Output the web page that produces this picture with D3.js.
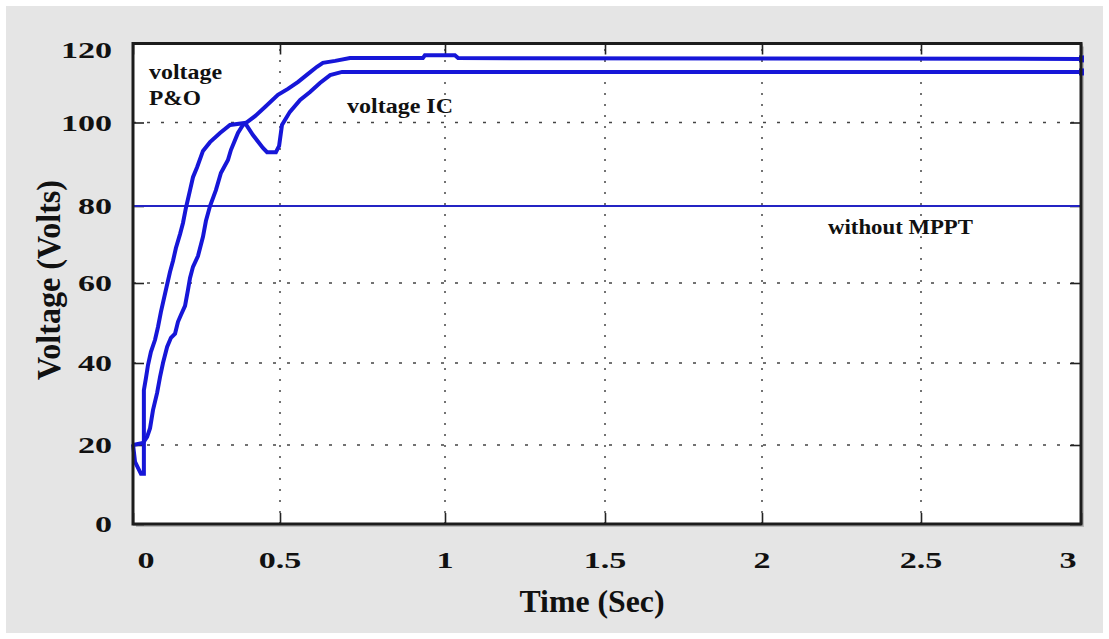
<!DOCTYPE html>
<html lang="en">
<head>
<meta charset="utf-8">
<script src="https://cdn.jsdelivr.net/npm/d3@7"></script>
<style>
    body { margin: 0; background: #fff; }
    text { font-family: "Liberation Serif", "Times New Roman", serif; font-weight: bold; fill: #111; }
</style>
</head>
<body>
<script>
    let w = 1109;
    let h = 639;

    // values: time in s, voltage in V
    let timeIC = [0, 0.007, 0.027, 0.037, 0.037, 0.044, 0.051, 0.061, 0.075, 0.085, 0.095, 0.112,
        0.126, 0.136, 0.146, 0.16, 0.17, 0.18, 0.194, 0.204, 0.218, 0.238, 0.262, 0.296, 0.33,
        0.381, 0.408, 0.442, 0.456, 0.486, 0.497, 0.506, 0.53, 0.561, 0.591, 0.621, 0.652, 0.688, 3];
    let voltIC = [20.2, 15.7, 12.7, 12.7, 33.4, 36.3, 39.5, 42.8, 45.8, 49, 52.8, 58.3,
        62.9, 65.7, 69.1, 72.7, 75.6, 79.5, 83.8, 86.9, 89.3, 93.2, 95.3, 97.5, 99.4,
        99.9, 97, 93.9, 92.9, 92.9, 94.4, 99.4, 102.7, 105.7, 107.7, 110, 112, 112.8, 112.8];

    let timePO = [0, 0.034, 0.048, 0.058, 0.068, 0.082, 0.092, 0.102, 0.116, 0.129, 0.143, 0.153,
        0.163, 0.177, 0.187, 0.194, 0.204, 0.221, 0.238, 0.248, 0.262, 0.282, 0.299, 0.323, 0.333,
        0.357, 0.374, 0.388, 0.415, 0.449, 0.493, 0.524, 0.555, 0.585, 0.612, 0.63, 0.667, 0.712,
        0.933, 0.939, 1.031, 1.041, 3];
    let voltPO = [20, 20.5, 22, 24.1, 28.5, 32.7, 36.6, 40, 44, 46.3, 47.3, 50.3,
        52, 54.3, 58.3, 61.3, 64.2, 67, 72, 76.1, 80, 83.8, 87.9, 91, 93.4,
        97.5, 99.4, 100.1, 101.6, 103.9, 107, 108.5, 110.3, 112.3, 114.1, 115.1, 115.6, 116.3,
        116.3, 117, 117, 116.3, 116.1];

    let timeNoMppt = [0, 3];
    let voltNoMppt = [80, 80];

    let xTicks = [0, 0.5, 1, 1.5, 2, 2.5, 3];
    let xTickLabels = ["0", "0.5", "1", "1.5", "2", "2.5", "3"];
    let yTicks = [0, 20, 40, 60, 80, 100, 120];
    let yTickLabels = ["0", "20", "40", "60", "80", "100", "120"];

    // the scanned axes are slightly uneven, so the scales follow the gridlines
    let x = d3.scaleLinear().domain(xTicks).range([133, 280, 445, 605, 762, 921, 1081]);
    let y = d3.scaleLinear().domain(yTicks).range([524, 445, 363, 283, 206, 122.5, 43.5]);

    let svg = d3.select("body").append("svg")
        .attr("width", w)
        .attr("height", h);

    svg.append("rect").attr("width", w).attr("height", h).attr("fill", "#fff");
    svg.append("rect")
        .attr("x", 6).attr("y", 6)
        .attr("width", w - 12).attr("height", h - 12)
        .attr("fill", "#e5e5e5");

    let x0 = x(0), x1 = x(3), y0 = y(0), y1 = y(120);

    // shadow + plot area
    svg.append("rect")
        .attr("x", x0 + 3).attr("y", y1 + 3)
        .attr("width", x1 - x0).attr("height", y0 - y1)
        .attr("fill", "#b8b8b8");
    svg.append("rect")
        .attr("x", x0).attr("y", y1)
        .attr("width", x1 - x0).attr("height", y0 - y1)
        .attr("fill", "#fff");

    // dotted grid
    svg.append("g").selectAll("line")
        .data(xTicks.slice(1, -1))
        .join("line")
        .attr("x1", d => x(d)).attr("x2", d => x(d))
        .attr("y1", y0).attr("y2", y1)
        .attr("stroke", "#444")
        .attr("stroke-width", 1.5)
        .attr("stroke-dasharray", "2,9");

    svg.append("g").selectAll("line")
        .data(yTicks.slice(1, -1))
        .join("line")
        .attr("x1", x0).attr("x2", x1)
        .attr("y1", d => y(d)).attr("y2", d => y(d))
        .attr("stroke", "#444")
        .attr("stroke-width", 1.5)
        .attr("stroke-dasharray", "3,11");

    // inward ticks on all four sides
    let tickLen = 11;
    let axes = [
        [d3.axisBottom(x).tickValues(xTicks), `translate(0,${y0})`],
        [d3.axisTop(x).tickValues(xTicks), `translate(0,${y1})`],
        [d3.axisLeft(y).tickValues(yTicks), `translate(${x0},0)`],
        [d3.axisRight(y).tickValues(yTicks), `translate(${x1},0)`]
    ];
    axes.forEach(function(a) {
        let g = svg.append("g")
            .attr("transform", a[1])
            .call(a[0].tickSize(-tickLen).tickFormat(""));
        g.select(".domain").remove();
        g.selectAll("line").attr("stroke", "#222").attr("stroke-width", 1.6);
    });

    // curves
    let line = d3.line()
        .x(d => x(d[0]))
        .y(d => y(d[1]));

    svg.append("path")
        .datum(d3.zip(timeNoMppt, voltNoMppt))
        .attr("d", line)
        .attr("fill", "none")
        .attr("stroke", "#2424c4")
        .attr("stroke-width", 2);

    [[timeIC, voltIC], [timePO, voltPO]].forEach(function(s) {
        let pts = d3.zip(s[0], s[1]);
        svg.append("path")
            .datum(pts)
            .attr("d", line)
            .attr("fill", "none")
            .attr("stroke", "#1616d8")
            .attr("stroke-width", 4);
        let last = pts[pts.length - 1];
        svg.append("rect")
            .attr("x", x(last[0]) - 2).attr("y", y(last[1]) - 3.5)
            .attr("width", 5).attr("height", 7)
            .attr("fill", "#1616d8");
    });

    // frame
    svg.append("rect")
        .attr("x", x0).attr("y", y1)
        .attr("width", x1 - x0).attr("height", y0 - y1)
        .attr("fill", "none")
        .attr("stroke", "#1c1c1c")
        .attr("stroke-width", 3);

    // tick labels (the scan stretches them sideways)
    svg.append("g").selectAll("text")
        .data(yTicks)
        .join("text")
        .attr("transform", (d, i) => `translate(112,${y(d) + (i === yTicks.length - 1 ? 6 : 0)}) scale(1.42,1)`)
        .attr("text-anchor", "end")
        .attr("dy", "0.35em")
        .style("font-size", "24px")
        .text((d, i) => yTickLabels[i]);

    svg.append("g").selectAll("text")
        .data(xTicks)
        .join("text")
        .attr("transform", function(d, i) {
            let nudge = i === 0 ? 13 : (i === xTicks.length - 1 ? -13 : 0);
            return `translate(${x(d) + nudge},560) scale(1.42,1)`;
        })
        .attr("text-anchor", "middle")
        .attr("dy", "0.35em")
        .style("font-size", "24px")
        .text((d, i) => xTickLabels[i]);

    // axis titles
    svg.append("text")
        .attr("x", 592).attr("y", 612)
        .attr("text-anchor", "middle")
        .attr("textLength", 145)
        .attr("lengthAdjust", "spacingAndGlyphs")
        .style("font-size", "32px")
        .text("Time (Sec)");

    svg.append("text")
        .attr("transform", "translate(60,280) rotate(-90)")
        .attr("text-anchor", "middle")
        .attr("textLength", 200)
        .attr("lengthAdjust", "spacingAndGlyphs")
        .style("font-size", "33px")
        .text("Voltage (Volts)");

    // curve notes
    let notes = [
        ["voltage", 149, 79, 73],
        ["P&O", 149, 105, 52],
        ["voltage IC", 347, 113, 106],
        ["without MPPT", 828, 234, 145]
    ];
    svg.append("g").selectAll("text")
        .data(notes)
        .join("text")
        .attr("x", d => d[1])
        .attr("y", d => d[2])
        .attr("textLength", d => d[3])
        .attr("lengthAdjust", "spacingAndGlyphs")
        .style("font-size", "20px")
        .text(d => d[0]);
</script>
</body>
</html>
